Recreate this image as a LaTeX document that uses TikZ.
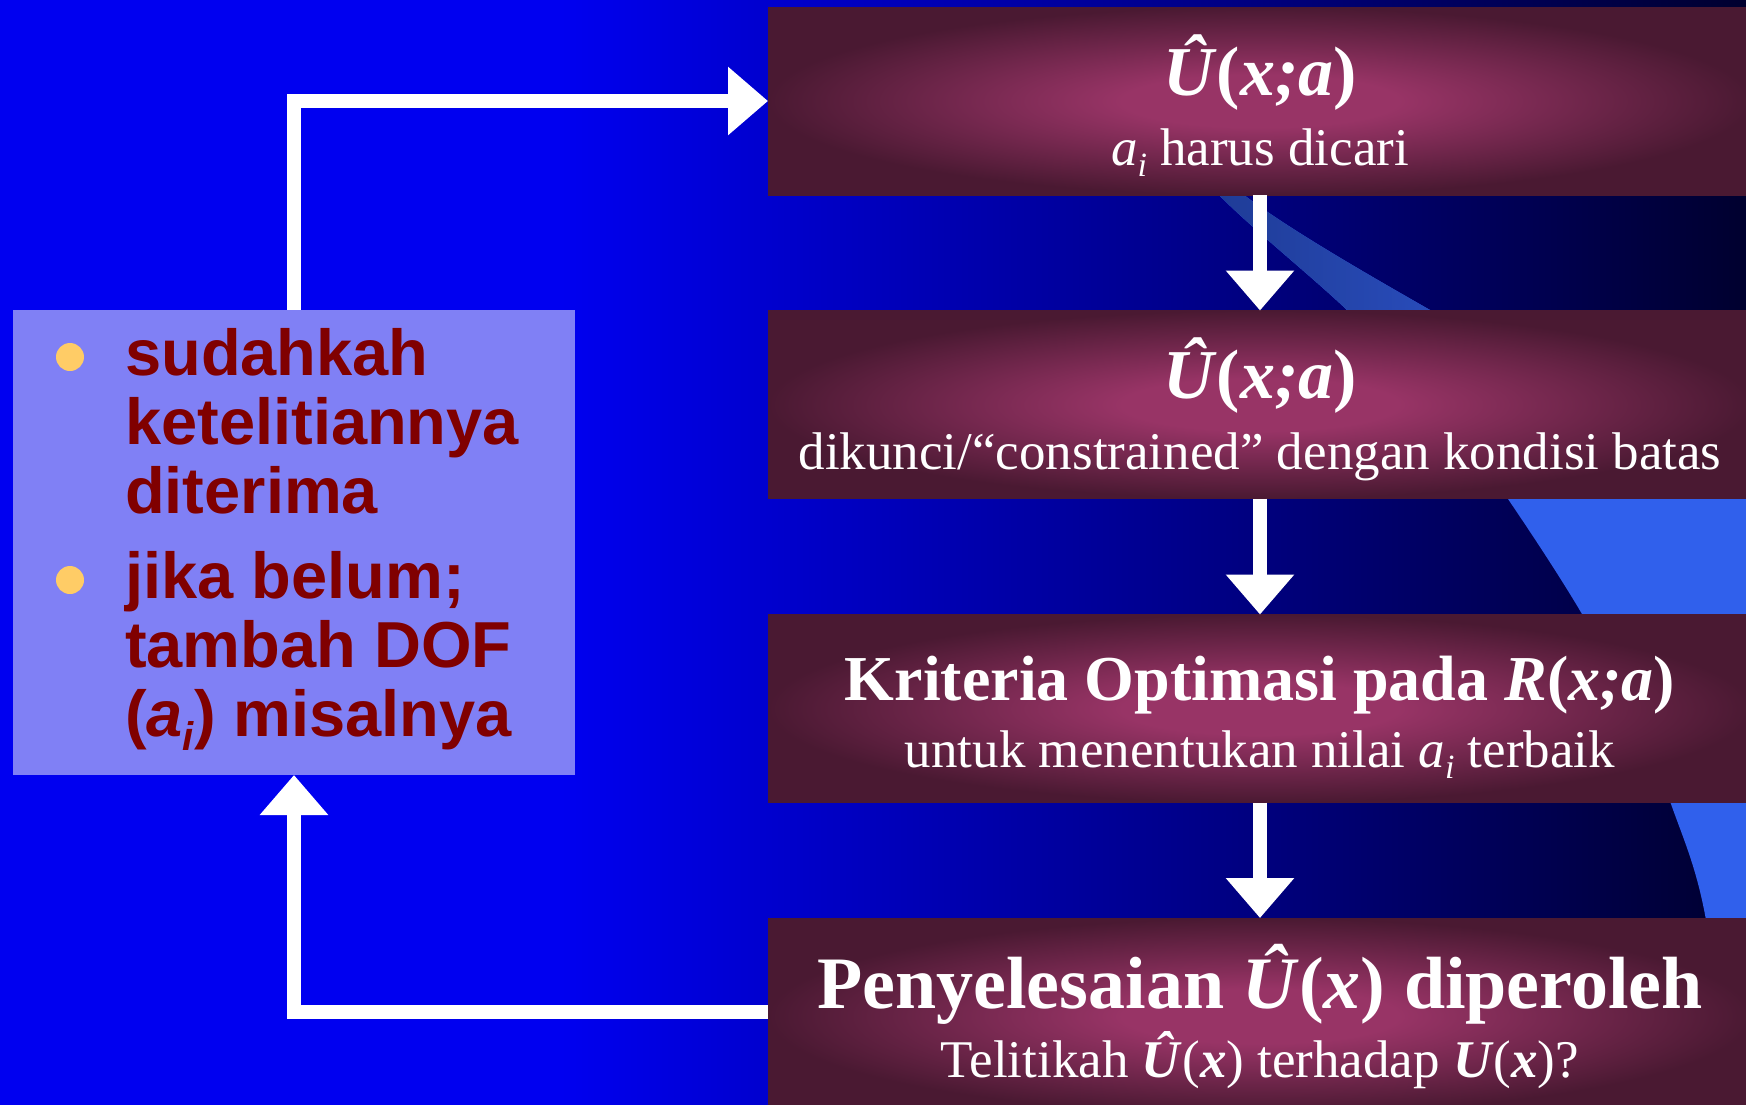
\documentclass[tikz,border=0pt]{standalone}
\usepackage{fontspec}
\setmainfont{Liberation Serif}
\newfontfamily\arialfont{Liberation Sans}
\usetikzlibrary{arrows.meta}
\definecolor{bgblue}{RGB}{0,0,240}
\definecolor{bgdark}{RGB}{0,0,45}
\definecolor{swooshc}{RGB}{48,96,236}
\definecolor{bandA}{RGB}{28,55,140}
\definecolor{bandB}{RGB}{55,100,240}
\definecolor{glowc}{RGB}{152,52,102}
\definecolor{glowe}{RGB}{74,25,50}
\definecolor{lbfill}{RGB}{128,128,245}
\definecolor{lbtext}{RGB}{128,0,0}
\definecolor{bulletc}{RGB}{255,204,102}
\pgfdeclareradialshading{boxglow}{\pgfpoint{0bp}{0bp}}{color(0bp)=(glowc); color(7bp)=(glowc); color(25bp)=(glowe); color(50bp)=(glowe)}
\newcommand\mysub[1]{\raisebox{-0.22em}{\fontsize{#1}{#1}\selectfont\itshape i}}
\newcommand\swooshpath{plot[smooth, tension=0.6] coordinates {(1150,110) (1219,195) (1347,310) (1440,405) (1508,499) (1582,614) (1632,710) (1671,804) (1706,920) (1728,1120)} -- (1770,1120) -- (1770,470) -- plot[smooth, tension=0.6] coordinates {(1770,470) (1600,398) (1430,310) (1244,195) (1170,110)} -- cycle}
\begin{document}
\begin{tikzpicture}[x=1pt,y=-1pt,
  box/.style={shade, shading=boxglow, minimum width=984pt, minimum height=188pt, inner sep=0pt, outer sep=0pt},
  ttl/.style={text=white, anchor=base, inner sep=0pt},
  subt/.style={text=white, anchor=base, inner sep=0pt, font=\fontsize{53}{53}\selectfont},
  lbt/.style={anchor=base west, inner sep=0pt, text=lbtext, font=\arialfont\bfseries\fontsize{65}{65}\selectfont},
  bul/.style={circle, fill=bulletc, minimum size=28pt, inner sep=0pt},
  conn/.style={draw=white, line width=14pt, line join=miter, -{Triangle[width=66pt,length=40pt]}}]
\useasboundingbox (0,0) rectangle (1746,1104);
\clip (-10,-10) rectangle (1756,1114);
% background
\fill[bgblue] (-10,-10) rectangle (1756,1114);
\shade[left color=bgblue, right color=bgdark] (560,-10) rectangle (1756,1114);
% swoosh
\fill[swooshc] \swooshpath;
\begin{scope}
  \clip (-10,-10) rectangle (1756,310);
  \shade[left color=bandA, right color=bandB] \swooshpath;
\end{scope}
% boxes
\node[box] (b1) at (1260,101) {};
\node[box] (b2) at (1260,404.5) {};
\node[box] (b3) at (1260,708.5) {};
\node[box, minimum height=196pt] (b4) at (1260,1016) {};
\node[fill=lbfill, minimum width=562pt, minimum height=465pt, inner sep=0pt, outer sep=0pt] (lb) at (294,542.5) {};
% connectors
\draw[conn] (b1.south) -- (b2.north);
\draw[conn] (b2.south) -- (b3.north);
\draw[conn] (b3.south) -- (b4.north);
\draw[conn] (lb.north) |- (b1.west);
\draw[conn] ([yshift=4pt]b4.west) -| (lb.south);
% box texts
\node[ttl, font=\fontsize{70}{70}\selectfont] (t1) at (1260,95) {\bfseries\textit{Û}(\textit{x;a})};
\node[subt] (s1) at (1260,165) {\textit{a}\mysub{34} harus dicari};
\node[ttl, font=\fontsize{70}{70}\selectfont] (t2) at (1260,398) {\bfseries\textit{Û}(\textit{x;a})};
\node[subt] (s2) at (1260,469) {dikunci/“constrained” dengan kondisi batas};
\node[ttl, font=\fontsize{64}{64}\selectfont] (t3) at (1260,700) {\bfseries Kriteria Optimasi pada \textit{R}(\textit{x;a})};
\node[subt] (s3) at (1260,767) {untuk menentukan nilai \textit{a}\mysub{34} terbaik};
\node[ttl, font=\fontsize{74}{74}\selectfont] (t4) at (1260,1008) {\bfseries Penyelesaian \textit{Û}(\textit{x}) diperoleh};
\node[subt] (s4) at (1260,1077) {Telitikah \textbf{\textit{Û}}(\textbf{\textit{x}}) terhadap \textbf{\textit{U}}(\textbf{\textit{x}})?};
% left box content
\node[bul] (p1) at (70,357) {};
\node[bul] (p2) at (70,580) {};
\node[lbt] (l1) at (125,375) {sudahkah};
\node[lbt] (l2) at (125,444) {ketelitiannya};
\node[lbt] (l3) at (125,513) {diterima};
\node[lbt] (l4) at (125,598) {jika belum;};
\node[lbt] (l5) at (125,667) {tambah DOF};
\node[lbt] (l6) at (125,736) {(\textit{a}\mysub{40}) misalnya};
\end{tikzpicture}
\end{document}
